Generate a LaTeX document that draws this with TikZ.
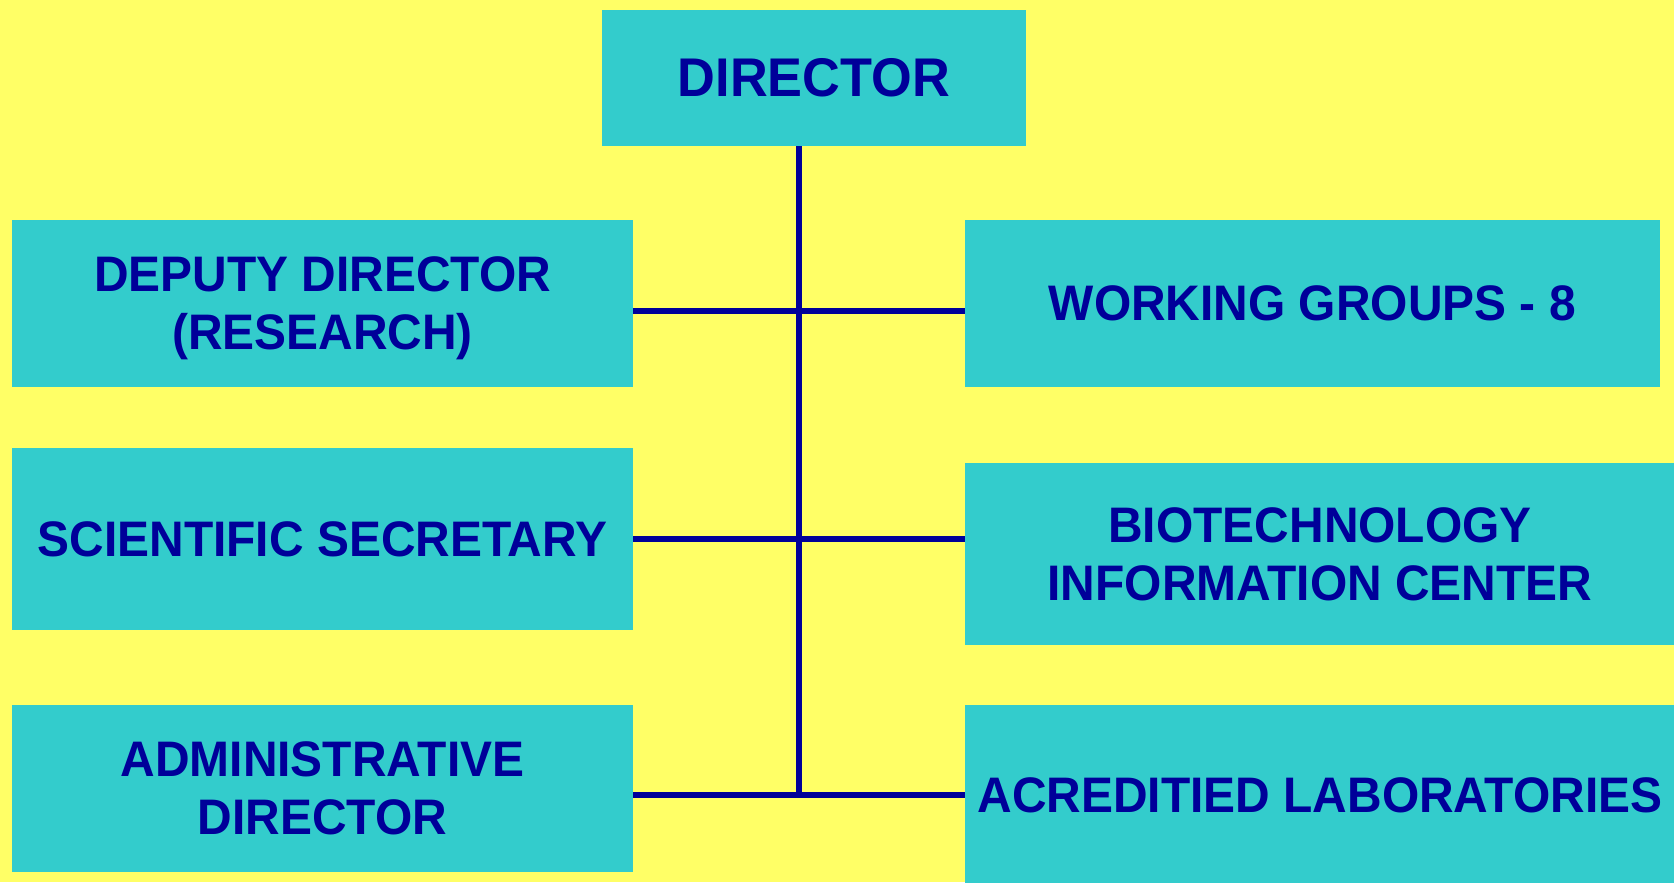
\documentclass[tikz,border=0pt]{standalone}
\usepackage{fontspec}
\setmainfont{Liberation Sans}[FakeStretch=0.96]
\usepackage{tikz}
\usetikzlibrary{calc}
\definecolor{bgyellow}{HTML}{FFFF66}
\definecolor{boxcyan}{HTML}{33CCCC}
\definecolor{inkblue}{HTML}{000099}

\begin{document}
\begin{tikzpicture}[
		unitbox/.style={fill=boxcyan, inner sep=0pt, outer sep=0pt, align=center, text=inkblue,
			font=\bfseries\fontsize{14.2pt}{16.4pt}\selectfont},
		link/.style={draw=inkblue, line width=1.7pt}]
		%%%%% START %%%%%
		\useasboundingbox (0, 0) rectangle (16.74, -8.82);
		\clip (0, 0) rectangle (16.74, -8.82);
		\fill[bgyellow] (0, 0) rectangle (16.74, -8.82);
		
		\node[unitbox, minimum width=4.24cm, minimum height=1.36cm,
			font=\bfseries\fontsize{15.5pt}{18pt}\selectfont] (dir) at (8.14, -0.78) {DIRECTOR};
		
		\node[unitbox, minimum width=6.21cm, minimum height=1.667cm] (dep) at (3.225, -3.033) {DEPUTY DIRECTOR\\\smash{(RESEARCH)}};
		\node[unitbox, minimum width=6.21cm, minimum height=1.82cm] (sci) at (3.225, -5.39) {SCIENTIFIC SECRETARY};
		\node[unitbox, minimum width=6.21cm, minimum height=1.667cm] (adm) at (3.225, -7.883) {ADMINISTRATIVE\\DIRECTOR};
		
		\node[unitbox, minimum width=6.955cm, minimum height=1.667cm] (wg) at (13.123, -3.033) {WORKING GROUPS - 8};
		\node[unitbox, minimum width=7.1cm, minimum height=1.82cm] (bio) at (13.2, -5.54) {BIOTECHNOLOGY\\INFORMATION CENTER};
		\node[unitbox, minimum width=7.1cm, minimum height=1.8cm] (acr) at (13.2, -7.95) {ACREDITIED LABORATORIES};
		
		\coordinate (trunk) at (7.99, -7.957);
		\draw[link] (dir.south -| trunk) -- (trunk);
		
		\draw[link] ([yshift=-0.074cm]dep.east) -- ([yshift=-0.074cm]dep.east -| wg.west);
		\draw[link] (sci.east) -- (sci.east -| bio.west);
		\draw[link] (acr.west -| adm.east) -- (acr.west);
		%%%%% END %%%%%
	\end{tikzpicture}
\end{document}
